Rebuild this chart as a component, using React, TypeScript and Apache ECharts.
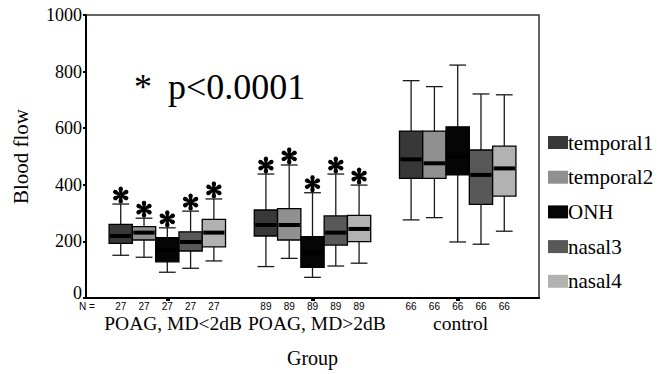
import React, { useEffect, useRef } from 'react';
import * as echarts from 'echarts';

// ---------- data ----------
const groups = ['POAG, MD<2dB', 'POAG, MD>2dB', 'control'];
const regions = ['temporal1', 'temporal2', 'ONH', 'nasal3', 'nasal4'];
const groupN = [27, 89, 66];
const significant = [1, 1, 0];
// each row: [lower whisker, Q1, median, Q3, upper whisker] for the three groups
const temporal1 = [[151, 193, 219, 260, 332], [111, 219, 258, 311, 438], [276, 423, 490, 590, 768]];
const temporal2 = [[144, 205, 231, 252, 282], [140, 205, 258, 316, 470], [284, 423, 476, 590, 747]];
const onh = [[91, 128, 170, 213, 248], [73, 108, 160, 217, 372], [198, 435, 500, 605, 823]];
const nasal3 = [[105, 166, 198, 234, 307], [113, 187, 231, 290, 438], [190, 331, 435, 523, 721]];
const nasal4 = [[131, 181, 231, 278, 350], [123, 199, 244, 292, 399], [236, 360, 458, 537, 718]];
const yTicks = [0, 200, 400, 600, 800, 1000];

const seriesValues = [temporal1, temporal2, onh, nasal3, nasal4];
const fills = ['#383838', '#909090', '#050505', '#585858', '#b2b2b2'];

const STEP = 0.1604; // width of one box in x-axis units (group spacing = 1)
const SERIF = 'Liberation Serif';
const SANS = 'Liberation Sans';

// six-petal asterisk shape
const PETAL = [[-0.9, 0], [-2.7, -7.4], [-1.7, -9.6], [0, -10], [1.7, -9.6], [2.7, -7.4], [0.9, 0]];
const STAR_PATH = [0, 60, 120, 180, 240, 300]
  .map((deg) => {
    const a = (deg * Math.PI) / 180;
    const c = Math.cos(a);
    const s = Math.sin(a);
    return (
      PETAL.map(([x, y], i) => `${i ? 'L' : 'M'}${(x * c - y * s).toFixed(2)},${(x * s + y * c).toFixed(2)}`).join(' ') +
      ' Z'
    );
  })
  .join(' ');

function makeRenderItem(k: number) {
  return (params: any, api: any) => {
    const g = api.value(0);
    const cxv = g + (k - 2) * STEP;
    const low = api.coord([cxv, api.value(1)]);
    const q1 = api.coord([cxv, api.value(2)]);
    const med = api.coord([cxv, api.value(3)]);
    const q3 = api.coord([cxv, api.value(4)]);
    const high = api.coord([cxv, api.value(5)]);
    const base = api.coord([cxv, 0]);
    const n = api.value(6);
    const star = api.value(7);
    const w = api.size([STEP, 0])[0];
    const capW = w * 0.72;
    const cx = q3[0];
    const x0 = cx - w / 2;
    const wStyle = { stroke: '#1a1a1a', lineWidth: 1.3 };
    const children: any[] = [
      { type: 'line', shape: { x1: cx, y1: high[1], x2: cx, y2: q3[1] }, style: wStyle },
      { type: 'line', shape: { x1: cx, y1: q1[1], x2: cx, y2: low[1] }, style: wStyle },
      { type: 'line', shape: { x1: cx - capW / 2, y1: high[1], x2: cx + capW / 2, y2: high[1] }, style: wStyle },
      { type: 'line', shape: { x1: cx - capW / 2, y1: low[1], x2: cx + capW / 2, y2: low[1] }, style: wStyle },
      {
        type: 'rect',
        shape: { x: x0, y: q3[1], width: w, height: q1[1] - q3[1] },
        style: { fill: fills[k], stroke: '#000', lineWidth: 1.3 },
      },
      {
        type: 'line',
        shape: { x1: x0 + 1, y1: med[1], x2: x0 + w - 1, y2: med[1] },
        style: { stroke: '#000', lineWidth: 4 },
      },
      {
        type: 'text',
        x: cx,
        y: base[1] + 8,
        style: { text: String(n), fontFamily: SANS, fontSize: 10, fill: '#000', align: 'center', verticalAlign: 'middle' },
      },
    ];
    if (star) {
      children.push({
        type: 'path',
        shape: { pathData: STAR_PATH, x: cx - 8.5, y: high[1] - 9 - 8.5, width: 17, height: 17 },
        style: { fill: '#000' },
      });
    }
    return { type: 'group', children };
  };
}

export default function App() {
  const ref = useRef<HTMLDivElement>(null);
  useEffect(() => {
    document.body.style.margin = '0';
    const chart = echarts.init(ref.current!, null, { renderer: 'svg' });
    const series = regions.map((name, k) => ({
      type: 'custom',
      name,
      renderItem: makeRenderItem(k),
      itemStyle: { color: fills[k] },
      encode: { x: 0, y: [1, 2, 3, 4, 5] },
      clip: false,
      data: groups.map((_, g) => [g, ...seriesValues[k][g], groupN[g], significant[g]]),
    }));
    chart.setOption({
      animation: false,
      backgroundColor: '#fff',
      grid: {
        left: 86, right: 126, top: 15, bottom: 76,
        show: true, borderColor: '#333', borderWidth: 1.5,
      },
      xAxis: {
        type: 'value',
        min: -0.56,
        max: 2.56,
        name: 'Group',
        nameLocation: 'middle',
        nameGap: 50,
        nameTextStyle: { fontFamily: SERIF, fontSize: 20, color: '#000' },
        axisLine: { show: true, onZero: false, lineStyle: { color: '#000', width: 2 } },
        axisTick: { show: true, customValues: [0, 1, 2], length: 3, lineStyle: { color: '#000', width: 4 } },
        axisLabel: {
          show: true,
          customValues: [0.04, 1.03, 2.02],
          margin: 15,
          fontFamily: SERIF,
          fontSize: 19.5,
          color: '#000',
          formatter: (v: number) => groups[Math.round(v)] ?? '',
        },
        splitLine: { show: false },
      },
      yAxis: {
        type: 'value',
        min: 0,
        max: 1000,
        interval: 200,
        name: 'Blood flow',
        nameLocation: 'middle',
        nameGap: 55,
        nameTextStyle: { fontFamily: SERIF, fontSize: 21, color: '#000' },
        axisLine: { show: true, onZero: false, lineStyle: { color: '#000', width: 2 } },
        axisTick: { show: true, length: 3, lineStyle: { color: '#000', width: 2 } },
        axisLabel: {
          fontFamily: SERIF, fontSize: 18, color: '#000', margin: 4,
          formatter: (v: number) => (v === 0 ? '{z|0}' : yTicks.includes(v) ? String(v) : ''),
          rich: { z: { fontFamily: SERIF, fontSize: 18, color: '#000', padding: [0, 0, 10, 0] } },
        },
        splitLine: { show: false },
      },
      legend: {
        orient: 'vertical',
        left: 543,
        top: 127,
        itemWidth: 20,
        itemHeight: 13,
        itemGap: 13.7,
        selectedMode: false,
        textStyle: { fontFamily: SERIF, fontSize: 21, color: '#000', padding: [0, 0, 0, -5] },
        data: regions.map((name, k) => ({ name, icon: 'rect', itemStyle: { color: fills[k], borderWidth: 0 } })),
      },
      graphic: [
        { type: 'text', left: 79, top: 301, style: { text: 'N =', fontFamily: SANS, fontSize: 10, fill: '#000' } },
        { type: 'text', x: 134, y: 87, style: { text: '*', fontFamily: SERIF, fontSize: 36, fill: '#000', verticalAlign: 'middle' } },
        { type: 'text', x: 168, y: 87, style: { text: 'p<0.0001', fontFamily: SERIF, fontSize: 36, fill: '#000', verticalAlign: 'middle' } },
      ],
      series,
    });
    return () => chart.dispose();
  }, []);
  return <div ref={ref} style={{ position: 'fixed', left: 0, top: 0, width: 665, height: 374 }} />;
}
